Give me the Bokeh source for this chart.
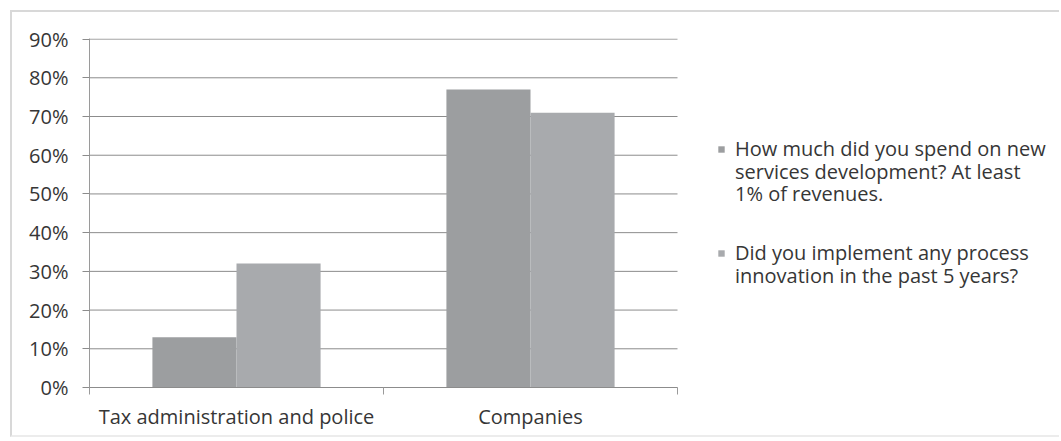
from bokeh.plotting import figure
from bokeh.models import FixedTicker, Range1d, Legend, LegendItem
from bokeh.embed import file_html
from bokeh.resources import INLINE

categories = ["Tax administration and police", "Companies"]
series_label_lines = [
    ["How much did you spend on new", "services development? At least", "1% of revenues."],
    ["Did you implement any process", "innovation in the past 5 years?"],
]
spend_values = [0.13, 0.77]
process_values = [0.32, 0.71]
y_ticks = [0.0, 0.1, 0.2, 0.3, 0.4, 0.5, 0.6, 0.7, 0.8, 0.9]
y_tick_labels = ["0%", "10%", "20%", "30%", "40%", "50%", "60%", "70%", "80%", "90%"]

colors = ["#9c9ea0", "#a8aaad"]
FONT = "Open Sans"
FS = "20px"
TXT = "#363636"
GRID = "#8c8c8c"
AXIS = "#9a9a9a"

n = len(categories)
# the frame spans the chart and the legend area; the category axis covers [0, n]
x_end = n * 972 / 588
p = figure(width=1049, height=427, output_backend="svg", toolbar_location=None,
           x_range=Range1d(0, x_end), y_range=Range1d(0, 0.9015),
           min_border_left=77, min_border_right=0, min_border_top=26, min_border_bottom=52)
p.margin = (10, 0, 0, 10)
p.styles = {"border-top": "2px solid #d8d8d8", "border-left": "2px solid #d8d8d8",
            "border-bottom": "2px solid #ececec"}
p.outline_line_color = None
p.background_fill_color = "white"
p.border_fill_color = "white"

# horizontal gridlines limited to the category area
p.segment(x0=[0] * len(y_ticks), x1=[n] * len(y_ticks), y0=y_ticks, y1=y_ticks,
          line_color=GRID, line_width=1)

bw = 0.286
xs = [i + 0.5 for i in range(n)]
r1 = p.vbar(x=[x - bw / 2 for x in xs], top=spend_values, width=bw, bottom=0,
            fill_color=colors[0], line_color=None)
r2 = p.vbar(x=[x + bw / 2 for x in xs], top=process_values, width=bw, bottom=0,
            fill_color=colors[1], line_color=None)
blank = p.vbar(x=[], top=[], width=0.1, fill_alpha=0, line_alpha=0)

# y axis
p.yaxis.ticker = FixedTicker(ticks=y_ticks)
p.yaxis.major_label_overrides = {t: l for t, l in zip(y_ticks, y_tick_labels)}
p.yaxis.major_tick_out = 7
p.yaxis.major_tick_in = 0
p.yaxis.minor_tick_out = 0
p.yaxis.minor_tick_in = 0
p.yaxis.axis_line_color = AXIS
p.yaxis.major_tick_line_color = GRID
p.yaxis.major_label_text_font = FONT
p.yaxis.major_label_text_font_size = FS
p.yaxis.major_label_text_color = TXT
p.yaxis.major_label_standoff = 14

# x axis: labels at centers, tick marks at category boundaries
p.xaxis.bounds = (0, n)
p.xaxis.ticker = FixedTicker(ticks=xs, minor_ticks=list(range(n + 1)))
p.xaxis.major_label_overrides = {x: c for x, c in zip(xs, categories)}
p.xaxis.major_tick_out = 0
p.xaxis.major_tick_in = 0
p.xaxis.minor_tick_out = 7
p.xaxis.minor_tick_in = 0
p.xaxis.minor_tick_line_color = AXIS
p.xaxis.axis_line_color = GRID
p.xaxis.major_label_text_font = FONT
p.xaxis.major_label_text_font_size = FS
p.xaxis.major_label_text_color = TXT
p.xaxis.major_label_standoff = 8

p.xgrid.grid_line_color = None
p.ygrid.grid_line_color = None


def make_legend(label, renderer, loc):
    lg = Legend(items=[LegendItem(label=label, renderers=[renderer])],
                location=loc, border_line_color=None, background_fill_alpha=0,
                padding=0, margin=0, spacing=0,
                glyph_width=8, glyph_height=8, label_standoff=10,
                label_height=20,
                label_text_font=FONT, label_text_font_size=FS,
                label_text_color=TXT)
    p.add_layout(lg)


# legend: one line per legend row; the first line of each series carries the swatch
line_offsets = [[225, 202, 180], [121, 98]]
for renderer, lines, offs in zip([r1, r2], series_label_lines, line_offsets):
    for k, (text, vy) in enumerate(zip(lines, offs)):
        make_legend(text, renderer if k == 0 else blank, (628, vy))

open("out.html", "w").write(file_html(p, INLINE))
